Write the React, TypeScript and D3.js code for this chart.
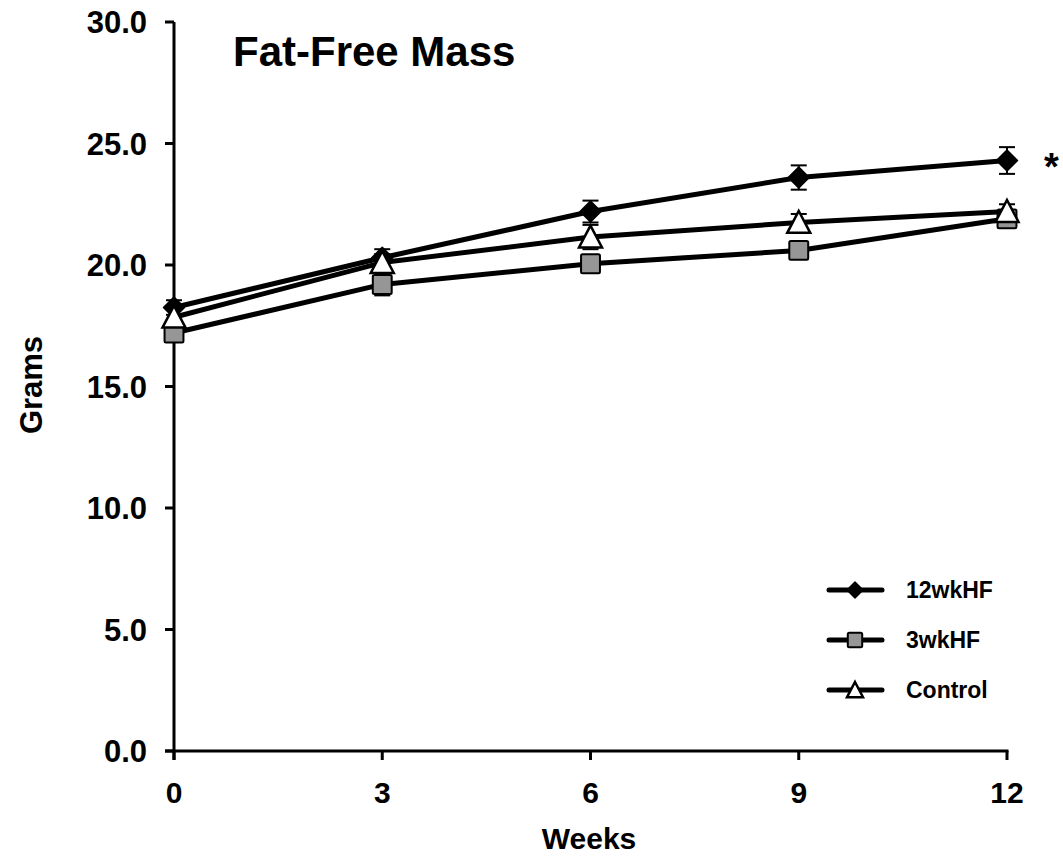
import React from 'react';
import * as d3 from 'd3';

// weeks on the x axis
const weeks = [0, 3, 6, 9, 12];
const xTicks = [0, 3, 6, 9, 12];
const yTicks = [0, 5, 10, 15, 20, 25, 30];

// fat-free mass (grams) and SEM per group
const hf12 = [18.25, 20.3, 22.2, 23.6, 24.3];
const hf12Err = [0.3, 0.35, 0.45, 0.5, 0.55];
const hf3 = [17.2, 19.2, 20.05, 20.6, 21.9];
const hf3Err = [0.35, 0.45, 0.3, 0.3, 0.3];
const control = [17.85, 20.1, 21.15, 21.75, 22.2];
const controlErr = [0.3, 0.35, 0.5, 0.35, 0.3];

const seriesNames = ['12wkHF', '3wkHF', 'Control'];

const W = 1063;
const H = 856;
const FONT = 'Arial, "Liberation Sans", Helvetica, sans-serif';

const x = d3.scaleLinear().domain([0, 12]).range([174, 1007]);
const y = d3.scaleLinear().domain([0, 30]).range([751, 22]);

type Kind = 'diamond' | 'square' | 'triangle';

const Marker = ({ kind, cx, cy, s }: { kind: Kind; cx: number; cy: number; s: number }) => {
  const h = s / 2;
  if (kind === 'diamond') {
    const d = `M${cx},${cy - h}L${cx + h},${cy}L${cx},${cy + h}L${cx - h},${cy}Z`;
    return <path d={d} fill="#000" stroke="#000" strokeWidth={1.5} strokeLinejoin="round" />;
  }
  if (kind === 'square') {
    return (
      <rect x={cx - h * 0.9} y={cy - h * 0.9} width={s * 0.9} height={s * 0.9} rx={1.5}
        fill="#969696" stroke="#000" strokeWidth={2} />
    );
  }
  const d = `M${cx},${cy - h}L${cx + h},${cy + h * 0.9}L${cx - h},${cy + h * 0.9}Z`;
  return <path d={d} fill="#fff" stroke="#000" strokeWidth={2.5} strokeLinejoin="miter" />;
};

const series = [
  { name: seriesNames[0], values: hf12, err: hf12Err, kind: 'diamond' as Kind },
  { name: seriesNames[1], values: hf3, err: hf3Err, kind: 'square' as Kind },
  { name: seriesNames[2], values: control, err: controlErr, kind: 'triangle' as Kind },
];

const line = d3.line<number>()
  .x((_, i) => x(weeks[i]))
  .y((d) => y(d));

export default function App() {
  return (
    <svg width={W} height={H} style={{ display: 'block', position: 'absolute', left: 0, top: 0 }}
      fontFamily={FONT} fontWeight="bold">
      <rect width={W} height={H} fill="#fff" />

      {/* title */}
      <text x={233} y={66} fontSize={42}>Fat-Free Mass</text>

      {/* y axis */}
      <line x1={174} x2={174} y1={y(30)} y2={760} stroke="#000" strokeWidth={3} />
      {yTicks.map((t) => (
        <g key={t}>
          <line x1={165} x2={174} y1={y(t)} y2={y(t)} stroke="#000" strokeWidth={3} />
          <text x={147} y={y(t)} dy="0.36em" textAnchor="end" fontSize={31}>{t.toFixed(1)}</text>
        </g>
      ))}

      {/* x axis */}
      <line x1={165} x2={x(12) + 1.5} y1={y(0)} y2={y(0)} stroke="#000" strokeWidth={3} />
      {xTicks.map((t) => (
        <g key={t}>
          <line x1={x(t)} x2={x(t)} y1={y(0)} y2={760} stroke="#000" strokeWidth={3} />
          <text x={x(t)} y={803} textAnchor="middle" fontSize={30}>{t}</text>
        </g>
      ))}

      <text x={589} y={849} textAnchor="middle" fontSize={30}>Weeks</text>
      <text transform="translate(42,385) rotate(-90)" textAnchor="middle" fontSize={31}>Grams</text>

      {/* series */}
      {series.map((s) => (
        <g key={s.name}>
          {s.values.map((v, i) => (
            <g key={i} stroke="#000" strokeWidth={2}>
              <line x1={x(weeks[i])} x2={x(weeks[i])} y1={y(v + s.err[i])} y2={y(v - s.err[i])} />
              <line x1={x(weeks[i]) - 8} x2={x(weeks[i]) + 8} y1={y(v + s.err[i])} y2={y(v + s.err[i])} />
              <line x1={x(weeks[i]) - 8} x2={x(weeks[i]) + 8} y1={y(v - s.err[i])} y2={y(v - s.err[i])} />
            </g>
          ))}
          <path d={line(s.values) || ''} fill="none" stroke="#000" strokeWidth={5} strokeLinejoin="round" />
          {s.values.map((v, i) => (
            <Marker key={i} kind={s.kind} cx={x(weeks[i])} cy={y(v)} s={s.kind === 'triangle' ? 23 : 21} />
          ))}
        </g>
      ))}

      {/* significance */}
      <text x={1044} y={180} fontSize={38}>*</text>

      {/* legend */}
      {series.map((s, i) => {
        const ly = 590 + i * 50;
        return (
          <g key={s.name}>
            <line x1={829} x2={882} y1={ly} y2={ly} stroke="#000" strokeWidth={5} strokeLinecap="round" />
            <Marker kind={s.kind} cx={855} cy={ly} s={16} />
            <text x={906} y={ly} dy="0.36em" fontSize={23}>{s.name}</text>
          </g>
        );
      })}
    </svg>
  );
}
